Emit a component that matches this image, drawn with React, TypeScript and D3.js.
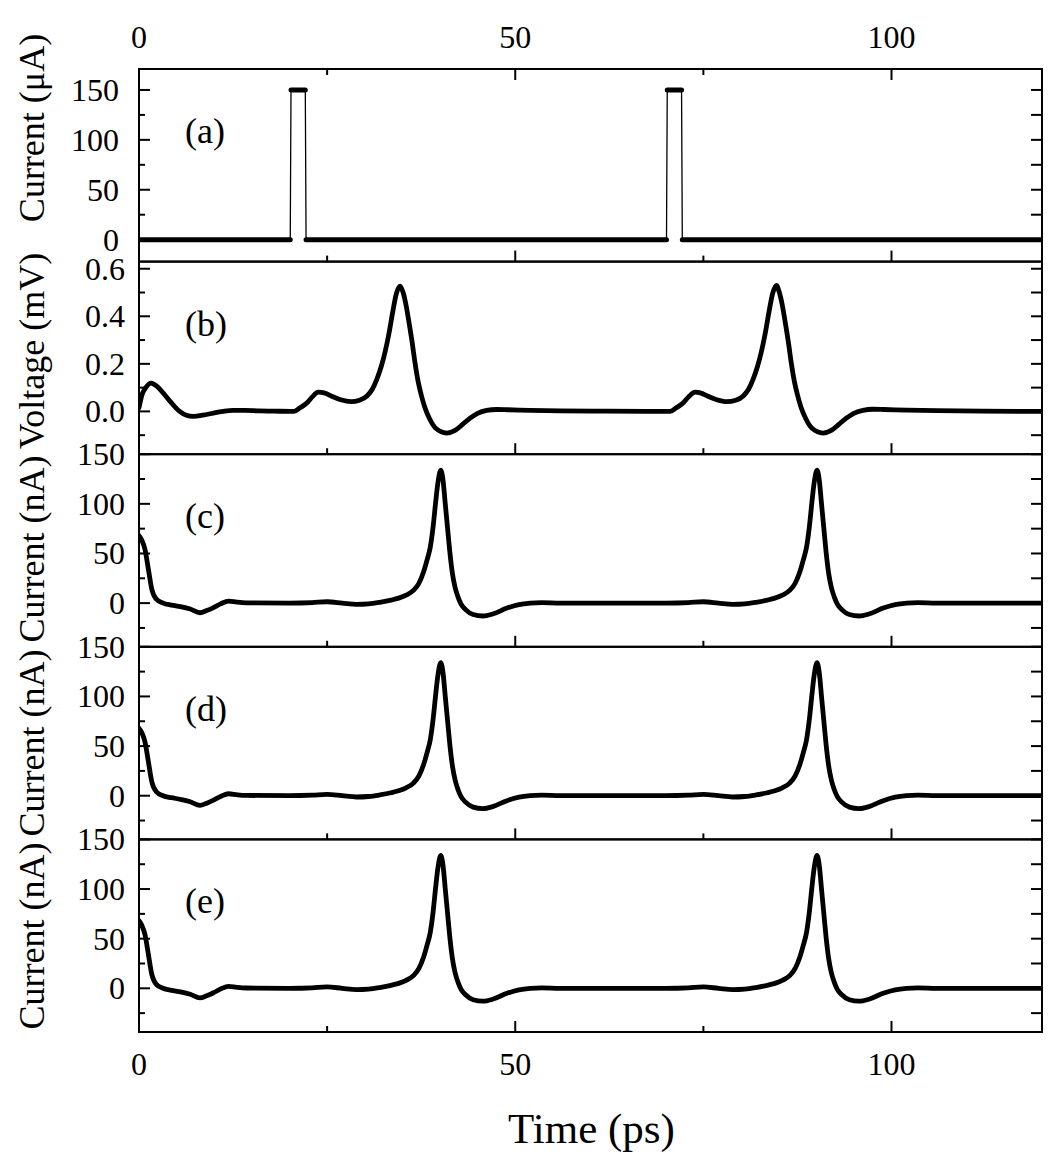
import React from 'react';
import * as d3 from 'd3';

const W = 1058;
const H = 1165;
const plotLeft = 139;
const plotRight = 1042;
const plotTop = 69;
const panelH = 192.6;

// time axis (ps)
const timeDomain = [0, 120];
const timeMajor = [0, 50, 100];
const timeMinor = [25, 75];

// (a) input current pulses (uA)
const pulseTime = [0, 20.1, 20.2, 22.1, 22.2, 70.1, 70.2, 72.1, 72.2, 120];
const pulseCurrent = [0, 0, 150, 150, 0, 0, 150, 150, 0, 0];

// (b) voltage (mV)
const voltageTime = [
  0, 0.4, 0.9, 1.6, 2.4, 3.2, 4.2, 5.4, 6.3, 7.2, 8.5, 9.9, 11.2, 12.5, 14, 16, 18,
  20.6, 21.4, 22.3, 23.0, 23.8, 24.6, 25.6, 26.8, 28.2, 29.3, 30.3, 31.0, 31.6, 32.2,
  32.7, 33.2, 33.7, 34.2, 34.7, 35.1, 35.5, 35.9, 36.3, 36.7, 37.1, 37.5, 38.0, 38.6,
  39.4, 40.9, 42.0, 43.0, 44.0, 45.0, 46.2, 47.5, 49, 52, 56, 62,
  70.6, 71.4, 72.3, 73.0, 73.9, 74.6, 75.6, 76.8, 78.1, 79.3, 80.3, 81.0, 81.6, 82.2,
  82.7, 83.2, 83.7, 84.2, 84.7, 85.1, 85.5, 85.9, 86.3, 86.7, 87.1, 87.5, 88.0, 88.6,
  89.4, 90.9, 92.0, 93.0, 94.0, 95.0, 96.2, 97.5, 99, 102, 106, 112, 120,
];
const voltage = [
  0.015, 0.07, 0.1, 0.119, 0.105, 0.078, 0.04, 0.0, -0.016, -0.021, -0.016, -0.007, 0.0, 0.004, 0.004, 0.002, 0.001,
  0.0, 0.015, 0.035, 0.06, 0.081, 0.078, 0.064, 0.049, 0.041, 0.047, 0.065, 0.093, 0.135, 0.19,
  0.25, 0.325, 0.415, 0.495, 0.527, 0.5, 0.445, 0.37, 0.29, 0.2, 0.125, 0.07, 0.015, -0.03,
  -0.07, -0.091, -0.08, -0.055, -0.028, -0.008, 0.004, 0.008, 0.007, 0.004, 0.002, 0.001,
  0.0, 0.015, 0.035, 0.06, 0.081, 0.078, 0.064, 0.049, 0.041, 0.047, 0.065, 0.093, 0.135, 0.19,
  0.25, 0.325, 0.415, 0.495, 0.53, 0.5, 0.445, 0.37, 0.29, 0.2, 0.125, 0.07, 0.015, -0.03,
  -0.07, -0.091, -0.08, -0.055, -0.028, -0.008, 0.004, 0.009, 0.008, 0.005, 0.003, 0.001, 0.0,
];

// (c), (d), (e) output currents (nA) -- the three traces coincide
const outTime = [
  0, 0.4, 0.8, 1.25, 1.7, 2.3, 3.2, 4.3, 5.5, 6.8, 8.1, 9.0, 9.9, 10.9, 11.9, 13.0, 14.3, 20,
  23, 25, 27, 28.9, 30.5, 32, 33.5, 34.5, 35.5, 36.5, 37.2, 37.8, 38.3, 38.7, 39.1, 39.4,
  39.7, 40.1, 40.4, 40.7, 41.0, 41.3, 41.65, 42.0, 42.4, 42.8, 43.4, 44.4, 45.7, 47.0,
  48.9, 50.5, 52.0, 53.5, 56, 70,
  73, 75, 77, 78.9, 80.5, 82, 83.5, 84.5, 85.5, 86.5, 87.2, 87.8, 88.3, 88.7, 89.1, 89.4,
  89.7, 90.1, 90.4, 90.7, 91.0, 91.3, 91.65, 92.0, 92.4, 92.8, 93.4, 94.4, 95.7, 97.0,
  98.9, 100.5, 102.0, 103.5, 106, 120,
];
const outCurrent = [
  68, 63, 54, 34, 14, 4, 0, -2, -3.6, -6, -9.7, -7.5, -4.5, -0.5, 2, 1, 0.3, 0,
  0.5, 1.4, 0, -1.3, -0.8, 0.8, 3, 5, 8, 13, 20, 31, 44, 56, 78, 100,
  120, 134, 124, 100, 76, 52, 30, 16, 6, -1, -6.5, -11.5, -13, -11,
  -5, -1.5, 0, 0.5, 0, 0,
  0.5, 1.4, 0, -1.3, -0.8, 0.8, 3, 5, 8, 13, 20, 31, 44, 56, 78, 100,
  120, 134, 124, 100, 76, 52, 30, 16, 6, -1, -6.5, -11.5, -13, -11,
  -5, -1.5, 0, 0.5, 0, 0,
];

const panels = [
  { tag: '(a)', title: 'Current (\u03bcA)', titleY: 128, domain: [-22, 171], major: [0, 50, 100, 150], minor: [25, 75, 125], fmt: (d: number) => String(d), labelX: 119, t: pulseTime, v: pulseCurrent, pulse: true },
  { tag: '(b)', title: 'Voltage (mV)', titleY: 351, domain: [-0.18, 0.63], major: [0, 0.2, 0.4, 0.6], minor: [-0.1, 0.1, 0.3, 0.5], fmt: (d: number) => d.toFixed(1), labelX: 125, t: voltageTime, v: voltage, pulse: false },
  { tag: '(c)', title: 'Current (nA)', titleY: 549, domain: [-44, 150], major: [0, 50, 100, 150], minor: [-25, 25, 75, 125], fmt: (d: number) => String(d), labelX: 125, t: outTime, v: outCurrent, pulse: false },
  { tag: '(d)', title: 'Current (nA)', titleY: 743, domain: [-44, 150], major: [0, 50, 100, 150], minor: [-25, 25, 75, 125], fmt: (d: number) => String(d), labelX: 125, t: outTime, v: outCurrent, pulse: false },
  { tag: '(e)', title: 'Current (nA)', titleY: 936, domain: [-44, 150], major: [0, 50, 100, 150], minor: [-25, 25, 75, 125], fmt: (d: number) => String(d), labelX: 125, t: outTime, v: outCurrent, pulse: false },
];

const font = '"Liberation Serif", "Times New Roman", serif';
const MAJ = 11;
const MIN = 6;

export default function App() {
  const x = d3.scaleLinear().domain(timeDomain).range([plotLeft, plotRight]);
  const plotBottom = plotTop + panelH * panels.length;

  return (
    <svg width={W} height={H} style={{ position: 'absolute', left: 0, top: 0, background: '#fff' }} fontFamily={font}>
      {panels.map((p, i) => {
        const top = plotTop + i * panelH;
        const bottom = top + panelH;
        const y = d3.scaleLinear().domain(p.domain).range([bottom, top]);
        const pts = p.t.map((t, k) => [t, p.v[k]] as [number, number]);
        const curve = p.pulse ? d3.curveLinear : d3.curveMonotoneX;
        const path = d3.line<[number, number]>().x(d => x(d[0])).y(d => y(d[1])).curve(curve)(pts) || '';
        // flat stretches of the pulse trace are drawn thick (dense samples)
        const flats = p.pulse
          ? pts.slice(1).map((d, k) => [pts[k], d]).filter(s => s[0][1] === s[1][1])
          : [];
        return (
          <g key={p.tag}>
            <defs>
              <clipPath id={`clip${i}`}>
                <rect x={plotLeft} y={top} width={plotRight - plotLeft} height={panelH} />
              </clipPath>
            </defs>
            <g clipPath={`url(#clip${i})`}>
              {p.pulse ? (
                <>
                  <path d={path} fill="none" stroke="#000" strokeWidth={1.3} />
                  {flats.map((s, k) => (
                    <line key={k} x1={x(s[0][0])} x2={x(s[1][0])} y1={y(s[0][1])} y2={y(s[1][1])} stroke="#000" strokeWidth={5} strokeLinecap="round" />
                  ))}
                </>
              ) : (
                <path d={path} fill="none" stroke="#000" strokeWidth={4.8} strokeLinejoin="round" strokeLinecap="round" />
              )}
            </g>
            <rect x={plotLeft} y={top} width={plotRight - plotLeft} height={panelH} fill="none" stroke="#000" strokeWidth={2} />
            {/* y ticks, left and right */}
            {p.major.map(v => (
              <g key={'M' + v}>
                <line x1={plotLeft} x2={plotLeft + MAJ} y1={y(v)} y2={y(v)} stroke="#000" strokeWidth={2} />
                <line x1={plotRight} x2={plotRight - MAJ} y1={y(v)} y2={y(v)} stroke="#000" strokeWidth={2} />
                <text x={p.labelX} y={y(v)} dy="0.34em" textAnchor="end" fontSize={32}>{p.fmt(v)}</text>
              </g>
            ))}
            {p.minor.map(v => (
              <g key={'m' + v}>
                <line x1={plotLeft} x2={plotLeft + MIN} y1={y(v)} y2={y(v)} stroke="#000" strokeWidth={2} />
                <line x1={plotRight} x2={plotRight - MAJ} y1={y(v)} y2={y(v)} stroke="#000" strokeWidth={2} />
              </g>
            ))}
            {/* x ticks on the panel bottom, pointing up */}
            {timeMajor.map(t => (
              <line key={'xM' + t} x1={x(t)} x2={x(t)} y1={bottom} y2={bottom - MAJ} stroke="#000" strokeWidth={2} />
            ))}
            {timeMinor.map(t => (
              <line key={'xm' + t} x1={x(t)} x2={x(t)} y1={bottom} y2={bottom - MIN} stroke="#000" strokeWidth={2} />
            ))}
            <text x={185} y={top + 74} fontSize={36}>{p.tag}</text>
            <text transform={`translate(44,${p.titleY}) rotate(-90)`} textAnchor="middle" fontSize={36}>{p.title}</text>
          </g>
        );
      })}
      {/* top axis of panel (a) */}
      {timeMajor.map(t => (
        <g key={'tM' + t}>
          <line x1={x(t)} x2={x(t)} y1={plotTop} y2={plotTop + MAJ} stroke="#000" strokeWidth={2} />
          <text x={x(t)} y={48} textAnchor="middle" fontSize={32}>{t}</text>
          <text x={x(t)} y={1075} textAnchor="middle" fontSize={32}>{t}</text>
        </g>
      ))}
      {timeMinor.map(t => (
        <line key={'tm' + t} x1={x(t)} x2={x(t)} y1={plotTop} y2={plotTop + MIN} stroke="#000" strokeWidth={2} />
      ))}
      <text x={(plotLeft + plotRight) / 2 + 1} y={1143} textAnchor="middle" fontSize={43}>Time (ps)</text>
      <line x1={plotLeft} x2={plotRight} y1={plotBottom} y2={plotBottom} stroke="#000" strokeWidth={2} />
    </svg>
  );
}
